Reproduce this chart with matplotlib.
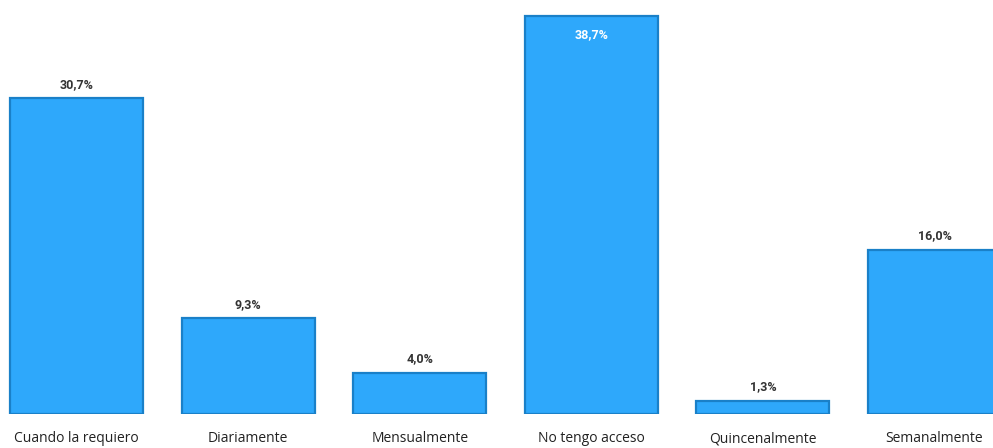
import matplotlib.pyplot as plt

# Frecuencia de uso
categorias = ["Cuando la requiero", "Diariamente", "Mensualmente",
              "No tengo acceso", "Quincenalmente", "Semanalmente"]
porcentajes = [30.7, 9.3, 4.0, 38.7, 1.3, 16.0]
etiquetas = ["30,7%", "9,3%", "4,0%", "38,7%", "1,3%", "16,0%"]

fig = plt.figure(figsize=(9.93, 4.48), dpi=100)
ax = fig.add_axes([0, 34 / 448, 1, 414 / 448])

x = range(len(categorias))
bars = ax.bar(x, porcentajes, width=0.775, color="#2ea8fb",
              edgecolor="#1a80c8", linewidth=1.6)

ax.set_xlim(-0.4458, 5.341)
ax.set_ylim(0, 40.27)

for b, v, txt in zip(bars, porcentajes, etiquetas):
    cx = b.get_x() + b.get_width() / 2
    if v > 35:
        # etiqueta dentro de la barra más alta
        ax.annotate(txt, (cx, v), xytext=(0, -13), textcoords="offset points",
                    ha="center", va="center", fontsize=9, fontweight="bold",
                    color="white", family="Roboto")
    else:
        ax.annotate(txt, (cx, v), xytext=(0, 10), textcoords="offset points",
                    ha="center", va="center", fontsize=9, fontweight="bold",
                    color="#333333", family="Roboto")

ax.set_xticks(list(x))
ax.set_xticklabels(categorias, fontsize=10, color="#222222", family="Open Sans")
ax.tick_params(axis="x", length=0, pad=12.5)
ax.set_yticks([])
for s in ax.spines.values():
    s.set_visible(False)

fig.savefig("out.png", dpi=100)
